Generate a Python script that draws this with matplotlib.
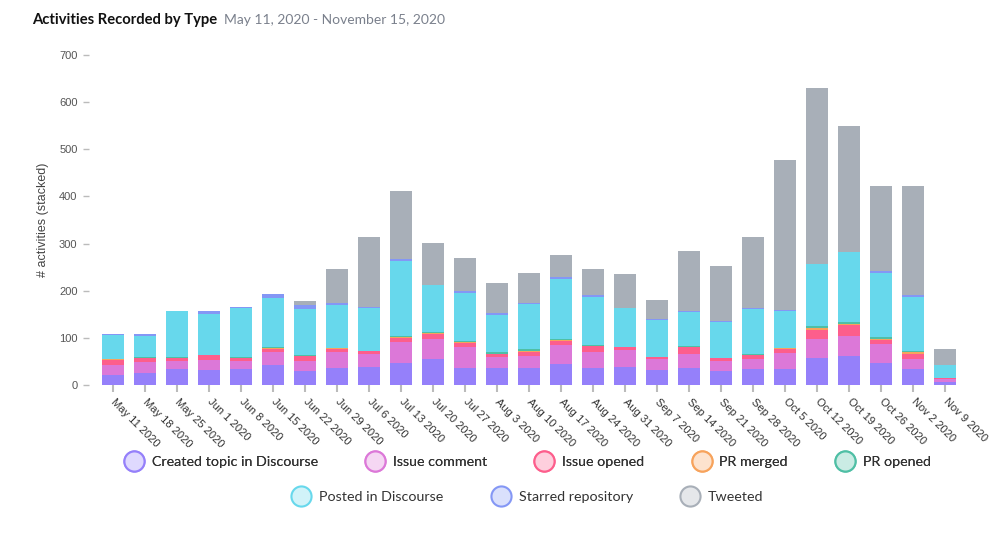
import numpy as np
import matplotlib
matplotlib.use("Agg")
import matplotlib.pyplot as plt
from matplotlib.lines import Line2D

weeks = ["May 11 2020", "May 18 2020", "May 25 2020", "Jun 1 2020", "Jun 8 2020",
         "Jun 15 2020", "Jun 22 2020", "Jun 29 2020", "Jul 6 2020", "Jul 13 2020",
         "Jul 20 2020", "Jul 27 2020", "Aug 3 2020", "Aug 10 2020", "Aug 17 2020",
         "Aug 24 2020", "Aug 31 2020", "Sep 7 2020", "Sep 14 2020", "Sep 21 2020",
         "Sep 28 2020", "Oct 5 2020", "Oct 12 2020", "Oct 19 2020", "Oct 26 2020",
         "Nov 2 2020", "Nov 9 2020"]

created_topic = [21, 25, 34, 32, 34, 42, 30, 36, 38, 47, 55, 36, 36, 36, 45, 36, 38, 32, 36,
                 30, 34, 34, 57, 62, 47, 34, 6]
issue_comment = [21, 24, 17, 21, 17, 28, 21, 34, 28, 44, 43, 45, 23, 26, 40, 34, 36, 23, 30,
                 21, 21, 34, 41, 42, 40, 21, 7]
issue_opened = [11, 9, 7, 11, 7, 6, 11, 6, 6, 9, 10, 8, 7, 8, 8, 13, 7, 4, 15,
                6, 9, 8, 19, 23, 8, 11, 2]
pr_merged = [2, 0, 0, 0, 0, 2, 0, 2, 0, 2, 2, 2, 0, 2, 2, 0, 0, 0, 0,
             0, 0, 2, 4, 2, 3, 4, 0]
pr_opened = [0, 1, 1, 0, 1, 3, 2, 0, 0, 2, 2, 2, 4, 4, 2, 2, 0, 0, 2,
             0, 2, 0, 4, 5, 4, 2, 0]
posted = [51, 45, 98, 87, 104, 104, 97, 92, 91, 159, 100, 102, 78, 96, 128, 102, 82, 79, 72,
          77, 95, 79, 132, 148, 136, 115, 27]
starred = [2, 4, 0, 6, 2, 8, 9, 4, 2, 4, 0, 4, 5, 2, 4, 4, 1, 2, 2,
           2, 2, 2, 0, 0, 4, 4, 0]
tweeted = [0, 0, 0, 0, 0, 0, 8, 72, 149, 144, 89, 70, 63, 64, 47, 55, 72, 40, 127,
           116, 151, 318, 373, 267, 180, 231, 34]

series = [
    ("Created topic in Discourse", created_topic, "#9580fa"),
    ("Issue comment", issue_comment, "#dc78d8"),
    ("Issue opened", issue_opened, "#fd5e8c"),
    ("PR merged", pr_merged, "#f7a35c"),
    ("PR opened", pr_opened, "#4fbfa5"),
    ("Posted in Discourse", posted, "#67d8ec"),
    ("Starred repository", starred, "#8497f5"),
    ("Tweeted", tweeted, "#a8afb8"),
]

fig = plt.figure(figsize=(10.04, 5.34), dpi=100)
ax = fig.add_axes([97 / 1004, 149 / 534, 864 / 1004, 330 / 534])

x = np.arange(len(weeks))
bottom = np.zeros(len(weeks))
for name, vals, col in series:
    ax.bar(x, vals, width=0.69, bottom=bottom, color=col, linewidth=0)
    bottom += np.array(vals)

ax.set_xlim(-0.5, len(weeks) - 0.5)
ax.set_ylim(0, 700)
ax.set_yticks(range(0, 701, 100))
for s in ax.spines.values():
    s.set_visible(False)
ax.spines["left"].set_position(("outward", 6))
ax.tick_params(axis="y", length=4, width=1, color="#bbbbbb", pad=4,
               labelsize=8, labelcolor="#555555")
ax.tick_params(axis="x", length=5, width=1.5, color="#bbbbbb", pad=6,
               labelsize=8, labelcolor="#333333")
for lab in ax.get_yticklabels():
    lab.set_fontfamily("Liberation Sans")
ax.set_xticks(x)
ax.set_xticklabels(weeks, rotation=-45, ha="left", va="center",
                   rotation_mode="anchor", fontfamily="Liberation Sans")
ax.set_ylabel("# activities (stacked)", fontsize=9, color="#444444",
              fontfamily="Liberation Sans", labelpad=7)

fig.text(32 / 1004, 1 - 20 / 534, "Activities Recorded by Type", fontsize=10.6,
         fontweight="bold", fontfamily="Lato", color="#111111", va="center")
fig.text(224 / 1004, 1 - 20 / 534, "May 11, 2020 - November 15, 2020", fontsize=10,
         fontfamily="Lato", color="#7a808c", va="center")


def make_handles(items):
    hs = []
    for name, vals, col in items:
        rgb = np.array(matplotlib.colors.to_rgb(col))
        light = 1 - 0.3 * (1 - rgb)
        hs.append(Line2D([], [], linestyle="none", marker="o", markersize=14.5,
                         markerfacecolor=light, markeredgecolor=col,
                         markeredgewidth=1.5, label=name))
    return hs


cx = 527 / 1004
leg_kw = dict(loc="center", frameon=False, prop={"family": "Lato", "size": 10.3},
              handlelength=1.5, handletextpad=0.5, columnspacing=3.25,
              labelcolor="#333333")
leg1 = fig.legend(handles=make_handles(series[:5]), ncol=5,
                  bbox_to_anchor=(cx, 1 - 462 / 534), **leg_kw)
leg2 = fig.legend(handles=make_handles(series[5:]), ncol=3,
                  bbox_to_anchor=(cx, 1 - 497 / 534), **leg_kw)
fig.add_artist(leg1)

fig.savefig("out.png", dpi=100)
